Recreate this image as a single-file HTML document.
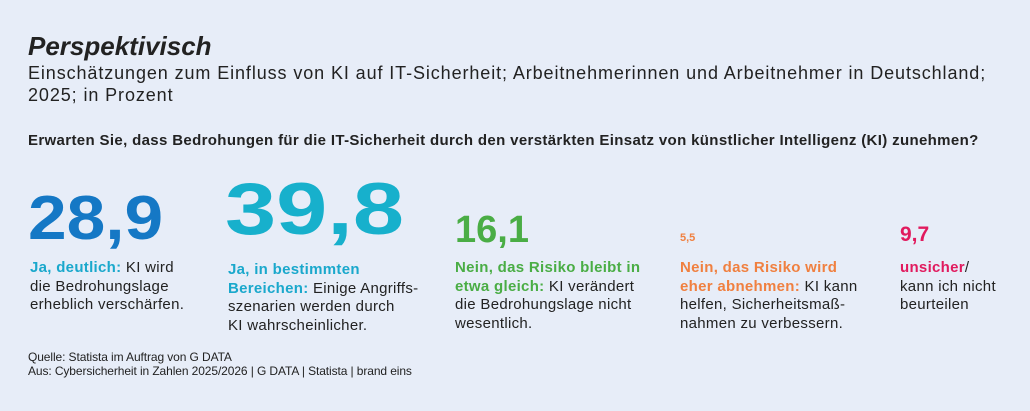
<!DOCTYPE html>
<html><head><meta charset="utf-8"><style>
body{margin:0;width:1030px;height:411px;background:#e7edf8;font-family:"Liberation Sans",sans-serif;color:#222;position:relative;overflow:hidden}
.a{position:absolute;white-space:nowrap}
.t{font-size:15px;line-height:18.5px;letter-spacing:0.3px}
.n{font-weight:bold;transform-origin:0 0}
</style></head><body>
<div class="a" style="left:28px;top:31px;font-size:26px;font-weight:bold;font-style:italic;letter-spacing:0px">Perspektivisch</div>
<div class="a" style="left:28px;top:62px;font-size:18px;line-height:22px;letter-spacing:0.9px">Einschätzungen zum Einfluss von KI auf IT-Sicherheit; Arbeitnehmerinnen und Arbeitnehmer in Deutschland;<br>2025; in Prozent</div>
<div class="a" style="left:28px;top:132px;font-size:15px;font-weight:bold;letter-spacing:0.35px">Erwarten Sie, dass Bedrohungen für die IT-Sicherheit durch den verstärkten Einsatz von künstlicher Intelligenz (KI) zunehmen?</div>

<div class="a n" style="left:28px;top:184px;font-size:62px;line-height:70px;color:#1578c5;transform:scaleX(1.12)">28,9</div>
<div class="a t" style="left:30px;top:259px"><b style="color:#1aa8cc">Ja, deutlich:</b> KI wird<br>die Bedrohungslage<br>erheblich verschärfen.</div>

<div class="a n" style="left:225px;top:170px;font-size:73px;line-height:80px;color:#17b0cc;transform:scaleX(1.26)">39,8</div>
<div class="a t" style="left:228px;top:261px"><b style="color:#1aa8cc">Ja, in bestimmten<br>Bereichen:</b> Einige Angriffs-<br>szenarien werden durch<br>KI wahrscheinlicher.</div>

<div class="a n" style="left:455px;top:208px;font-size:38px;line-height:44px;color:#4aad45">16,1</div>
<div class="a t" style="left:455px;top:259px"><b style="color:#4aad45">Nein, das Risiko bleibt in<br>etwa gleich:</b> KI verändert<br>die Bedrohungslage nicht<br>wesentlich.</div>

<div class="a" style="left:680px;top:232px;font-size:11px;font-weight:bold;color:#f08040">5,5</div>
<div class="a t" style="left:680px;top:259px"><b style="color:#f08040">Nein, das Risiko wird<br>eher abnehmen:</b> KI kann<br>helfen, Sicherheitsmaß-<br>nahmen zu verbessern.</div>

<div class="a n" style="left:900px;top:222px;font-size:21px;line-height:26px;color:#e11a5e">9,7</div>
<div class="a t" style="left:900px;top:259px"><b style="color:#e11a5e">unsicher</b>/<br>kann ich nicht<br>beurteilen</div>

<div class="a" style="left:28px;top:350px;font-size:12px;line-height:14px;letter-spacing:-0.1px">Quelle: Statista im Auftrag von G DATA<br>Aus: Cybersicherheit in Zahlen 2025/2026 | G DATA | Statista | brand eins</div>
</body></html>
